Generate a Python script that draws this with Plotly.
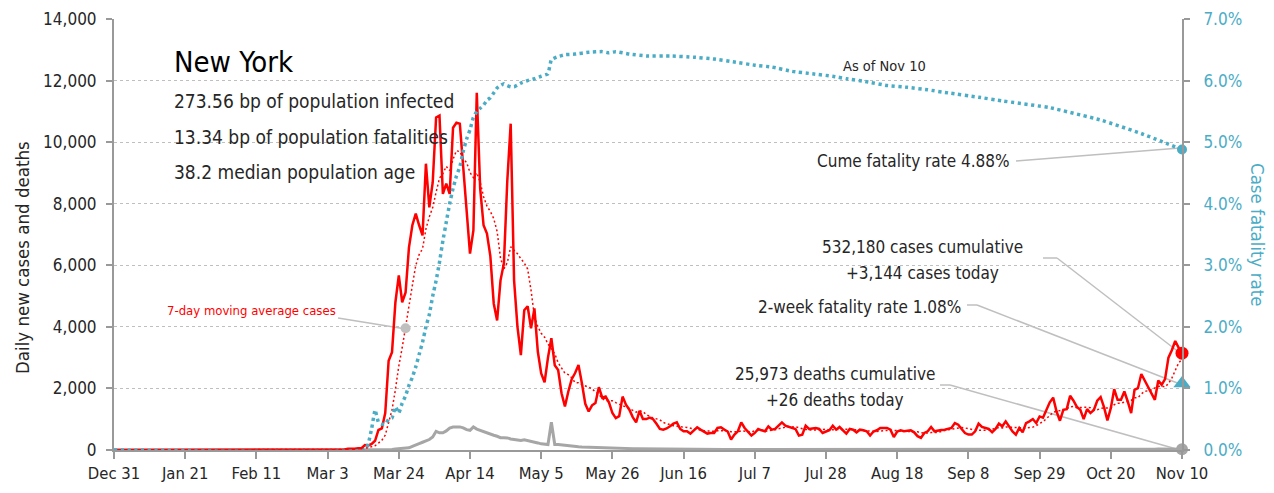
import pandas as pd
import plotly.graph_objects as go

# ---------------- data ----------------
# daily new cases, Dec 31 2019 .. Nov 10 2020
cases_early = [0] * 61 + [1, 0, 1, 9, 11, 22, 13, 16, 37, 36, 43, 60]  # Dec 31 .. Mar 12
cases_main = [
    60, 160, 150, 200, 300, 650, 700, 1200, 2900, 3180,
    4800, 5670, 4800, 5120, 6580, 7300, 7680, 7300, 6970, 9300,
    7880, 8690, 10800, 10860, 8320, 8650, 8320, 10470, 10630, 10600,
    9200, 7500, 6380, 7130, 11600, 8500, 7300, 7030, 6300, 4760,
    4210, 5510, 6060, 8750, 10600, 5510, 4000, 3080, 4540, 4670,
    3950, 4600, 3200, 2490, 2200, 3000, 3630, 2750, 2600, 1845,
    1413, 1900, 2300, 2500, 2758, 2170, 1500, 1250, 1450, 1530,
    2040, 1700, 1735, 1540, 1200, 1037, 1100, 1735, 1470, 1310,
    1070, 898, 1275, 1005, 1005, 1050, 1000, 850, 683, 662,
    700, 770, 855, 898, 683, 608, 608, 533, 630, 737,
    662, 600, 533, 555, 555, 716, 737, 662, 600, 340,
    500, 608, 897, 715, 600, 468, 554, 683, 640, 608,
    769, 661, 683, 780, 897, 790, 747, 700, 683, 468,
    500, 790, 683, 700, 715, 683, 554, 600, 640, 790,
    661, 747, 650, 532, 683, 661, 575, 661, 640, 608,
    468, 600, 640, 715, 715, 715, 661, 420, 600, 640,
    608, 620, 640, 575, 450, 392, 554, 608, 747, 608,
    640, 650, 661, 700, 715, 876, 822, 683, 550, 500,
    500, 608, 855, 747, 720, 683, 575, 683, 855, 769,
    930, 769, 600, 500, 715, 575, 876, 930, 1005, 876,
    1090, 1050, 1300, 1550, 1700, 1250, 950, 1306, 1328, 1760,
    1600, 1400, 1306, 1004, 1328, 1200, 1300, 1600, 1716, 1392,
    961, 1360, 1974, 1630, 1630, 1900, 1576, 1200, 1953, 2007,
    2470, 2255, 2007, 1800, 1630, 2255, 2115, 2300, 3000, 3240,
    3540, 3325, 3144,
]
deaths_early = [0] * 73
deaths_main = [
    0, 0, 0, 0, 0, 0, 0,
    0, 10, 20, 35, 40, 37, 50, 70, 120, 177,
    210, 252, 300, 340, 420, 607, 560, 560, 620, 715,
    745, 750, 750, 720, 660, 640, 750, 680, 640, 600,
    540, 510, 480, 446, 400, 395, 392, 360, 338, 320,
    306, 330, 310, 285, 255, 230, 200, 180, 177, 900,
    180, 175, 160, 145, 135, 123, 110, 102, 95, 90,
    85, 80, 75, 70, 70, 65, 60, 58, 55, 52,
    50, 48, 45, 44, 42, 40, 38, 36, 35, 33,
    32, 30, 30, 28, 27, 26, 25, 24, 23, 22,
    21, 20, 20, 19, 18, 18, 17, 16, 16, 15,
    15, 14, 14, 13, 13, 12, 12, 12, 11, 11,
    11, 10, 10, 10, 9, 9, 9, 10, 9, 8,
    8, 9, 8, 8, 7, 8, 8, 7, 7, 8,
    7, 7, 8, 6, 7, 7, 6, 7, 8, 6,
    6, 7, 6, 7, 6, 5, 6, 7, 6, 5,
    6, 5, 7, 5, 6, 6, 5, 4, 6, 5,
    5, 6, 7, 5, 4, 6, 5, 6, 7, 8,
    6, 7, 5, 8, 6, 7, 8, 7, 9, 10,
    8, 9, 7, 10, 9, 8, 11, 10, 9, 12,
    10, 11, 9, 12, 13, 12, 11, 14, 12, 13,
    15, 13, 14, 16, 15, 17, 18, 16, 19, 17,
    18, 20, 19, 21, 18, 22, 20, 24, 21, 23,
    22, 25, 24, 21, 26, 24, 27, 25, 29, 26,
    28, 30, 27, 31, 29, 26,
]
# cumulative case fatality rate (%)
cfr_dates = [
    "2019-12-31", "2020-03-14", "2020-03-15", "2020-03-16", "2020-03-17", "2020-03-18",
    "2020-03-19", "2020-03-20", "2020-03-21", "2020-03-22", "2020-03-23", "2020-03-24",
    "2020-03-25", "2020-03-26", "2020-03-27", "2020-03-28", "2020-03-29", "2020-03-30",
    "2020-03-31", "2020-04-01", "2020-04-02", "2020-04-03", "2020-04-04", "2020-04-05",
    "2020-04-06", "2020-04-07", "2020-04-08", "2020-04-09", "2020-04-10", "2020-04-11",
    "2020-04-12", "2020-04-13", "2020-04-14", "2020-04-15", "2020-04-16", "2020-04-17",
    "2020-04-18", "2020-04-19", "2020-04-20", "2020-04-21", "2020-04-22", "2020-04-23",
    "2020-04-24", "2020-04-25", "2020-04-26", "2020-04-27", "2020-04-28", "2020-04-29",
    "2020-05-01", "2020-05-03", "2020-05-05", "2020-05-07", "2020-05-08", "2020-05-10",
    "2020-05-12", "2020-05-15", "2020-05-19", "2020-05-23", "2020-05-25", "2020-05-27",
    "2020-05-31", "2020-06-05", "2020-06-12", "2020-06-19", "2020-06-25", "2020-07-01",
    "2020-07-07", "2020-07-12", "2020-07-18", "2020-07-24", "2020-07-30", "2020-08-03",
    "2020-08-09", "2020-08-15", "2020-08-21", "2020-08-27", "2020-09-02", "2020-09-11",
    "2020-09-18", "2020-10-02", "2020-10-17", "2020-10-29", "2020-11-10",
]
cfr_values = [
    0, 0, 0.1, 0.35, 0.65, 0.45,
    0.42, 0.42, 0.5, 0.52, 0.7, 0.6,
    0.76, 0.88, 1.05, 1.18, 1.35, 1.55,
    1.75, 2.0, 2.2, 2.5, 2.75, 3.05,
    3.4, 3.7, 4.0, 4.25, 4.45, 4.6,
    4.85, 5.05, 5.2, 5.4, 5.5, 5.55,
    5.6, 5.68, 5.72, 5.8, 5.88, 5.92,
    5.95, 5.92, 5.9, 5.9, 5.93, 5.96,
    6.0, 6.03, 6.07, 6.11, 6.34, 6.39,
    6.42, 6.43, 6.46, 6.47, 6.45, 6.47,
    6.43, 6.4, 6.4, 6.38, 6.35, 6.3,
    6.25, 6.22, 6.15, 6.11, 6.07, 6.03,
    5.98, 5.92, 5.89, 5.85, 5.8, 5.73,
    5.67, 5.56, 5.36, 5.14, 4.88,
]
two_week_cfr = 1.08
cume_cases_text = "532,180"
cume_deaths_text = "25,973"

tick_labels = ["Dec 31", "Jan 21", "Feb 11", "Mar 3", "Mar 24", "Apr 14", "May 5", "May 26",
               "Jun 16", "Jul 7", "Jul 28", "Aug 18", "Sep 8", "Sep 29", "Oct 20", "Nov 10"]

cases = cases_early + cases_main
deaths = deaths_early + deaths_main
dates = pd.date_range("2019-12-31", periods=len(cases), freq="D")
tick_vals = pd.date_range("2019-12-31", periods=len(tick_labels), freq="21D")
ma7 = pd.Series(cases).rolling(7, min_periods=1).mean()

# ---------------- style ----------------
FONT = "Liberation Sans Narrow, DejaVu Sans Condensed, Arial Narrow, sans-serif"
RED = "#ff0000"
TEAL = "#4bacc6"
GREY = "#a6a6a6"
LEAD = "#bfbfbf"
TXT = "#262626"

# page offset of the figure (default body margin of the html page)
OFF = 8
W, H = 1274 - OFF, 493 - OFF
PLOT_L, PLOT_R, PLOT_T, PLOT_B = 114, 1182, 19, 450      # plot area on the page
L, R, T, B = PLOT_L - OFF, W - (PLOT_R - OFF), PLOT_T - OFF, H - (PLOT_B - OFF)
PW, PH = PLOT_R - PLOT_L, PLOT_B - PLOT_T


def px(x):
    return (x - PLOT_L) / PW


def py(y):
    return (PLOT_B - y) / PH


fig = go.Figure()
fig.add_trace(go.Scatter(x=dates, y=deaths, mode="lines",
                         line=dict(color=GREY, width=3), hoverinfo="skip"))
fig.add_trace(go.Scatter(x=dates, y=ma7, mode="lines",
                         line=dict(color=RED, width=1.5, dash="2px,2.5px"), hoverinfo="skip"))
fig.add_trace(go.Scatter(x=dates, y=cases, mode="lines",
                         line=dict(color=RED, width=2.5), hoverinfo="skip"))
fig.add_trace(go.Scatter(x=pd.to_datetime(cfr_dates), y=cfr_values, mode="lines", yaxis="y2",
                         line=dict(color=TEAL, width=3.5, dash="3.2px,3.5px", shape="spline", smoothing=0.3),
                         hoverinfo="skip"))

# end-point markers
fig.add_trace(go.Scatter(x=[dates[-1]], y=[cfr_values[-1]], yaxis="y2", mode="markers",
                         marker=dict(color=TEAL, size=10), cliponaxis=False))
fig.add_trace(go.Scatter(x=[dates[-1]], y=[two_week_cfr], yaxis="y2", mode="markers",
                         marker=dict(color=TEAL, size=15, symbol="triangle-up"), cliponaxis=False))
fig.add_trace(go.Scatter(x=[dates[-1]], y=[cases[-1]], mode="markers",
                         marker=dict(color=RED, size=13), cliponaxis=False))
fig.add_trace(go.Scatter(x=[dates[-1]], y=[deaths[-1]], mode="markers",
                         marker=dict(color=GREY, size=12), cliponaxis=False))
# moving-average label dot
ma_dot_idx = 86
fig.add_trace(go.Scatter(x=[dates[ma_dot_idx]], y=[ma7[ma_dot_idx]], mode="markers",
                         marker=dict(color=LEAD, size=10), cliponaxis=False))

shapes = []


def leader(points):
    for (x0, y0), (x1, y1) in zip(points[:-1], points[1:]):
        shapes.append(dict(type="line", xref="paper", yref="paper",
                           x0=px(x0), y0=py(y0), x1=px(x1), y1=py(y1),
                           line=dict(color=LEAD, width=1.5), layer="below"))


leader([(1016, 161), (1180, 148)])
leader([(1043, 258), (1057, 258), (1180, 353)])
leader([(967, 305), (977, 305), (1180, 384)])
leader([(940, 385), (950, 385), (1180, 450)])
leader([(338, 318), (406, 329)])

ann = []


def text(x, y, s, size=18, color=TXT, anchor="left", angle=0):
    ann.append(dict(x=px(x), y=py(y), xref="paper", yref="paper", text=s, showarrow=False,
                    xanchor=anchor, yanchor="middle", textangle=angle,
                    font=dict(family=FONT, size=size, color=color)))


text(172, 62, "New York", size=29, color="#000000")
text(172, 101, "273.56 bp of population infected", size=19)
text(172, 137, "13.34 bp of population fatalities", size=19)
text(172, 172, "38.2 median population age", size=19)
text(884, 66, "As of Nov 10", size=14.5, anchor="center")
text(1012, 161, f"Cume fatality rate {cfr_values[-1]:.2f}%", size=17, anchor="right")
text(922, 247, f"{cume_cases_text} cases cumulative", size=17, anchor="center")
text(922, 273, f"+{cases[-1]:,} cases today", size=17, anchor="center")
text(963, 307, f"2-week fatality rate {two_week_cfr:.2f}%", size=17, anchor="right")
text(835, 374, f"{cume_deaths_text} deaths cumulative", size=17, anchor="center")
text(835, 400, f"+{deaths[-1]} deaths today", size=17, anchor="center")
text(251, 310, "7-day moving average cases", size=13, color=RED, anchor="center")
text(22, 258, "Daily new cases and deaths", size=18.5, anchor="center", angle=-90)
text(1258, 235, "Case fatality rate", size=18.5, color=TEAL, anchor="center", angle=90)

axis_common = dict(showline=True, linecolor="#999999", linewidth=2, zeroline=False,
                   ticks="outside", tickwidth=2, tickcolor="#999999",
                   ticklabeloverflow="allow", automargin=False)

fig.update_layout(
    width=W, height=H,
    margin=dict(l=L, r=R, t=T, b=B, autoexpand=False),
    paper_bgcolor="white", plot_bgcolor="white",
    showlegend=False,
    font=dict(family=FONT, size=18, color=TXT),
    shapes=shapes, annotations=ann,
    xaxis=dict(type="date", range=[dates[0], dates[-1]], tickvals=tick_vals, ticktext=tick_labels,
               showgrid=False, ticklen=7,
               tickfont=dict(family=FONT, size=16.5, color=TXT), **axis_common),
    yaxis=dict(range=[0, 14000], dtick=2000, tickformat=",d", showgrid=True,
               gridcolor="#bfbfbf", griddash="dot", gridwidth=1,
               ticklen=6, ticklabelstandoff=6,
               tickfont=dict(family=FONT, size=17, color=TXT), **axis_common),
    yaxis2=dict(range=[0, 7], dtick=1, tickformat=".1f", ticksuffix="%", overlaying="y", side="right",
                showgrid=False, ticklen=6, ticklabelstandoff=10,
                tickfont=dict(family=FONT, size=17, color=TEAL), **axis_common),
)

fig.write_html("out.html")
